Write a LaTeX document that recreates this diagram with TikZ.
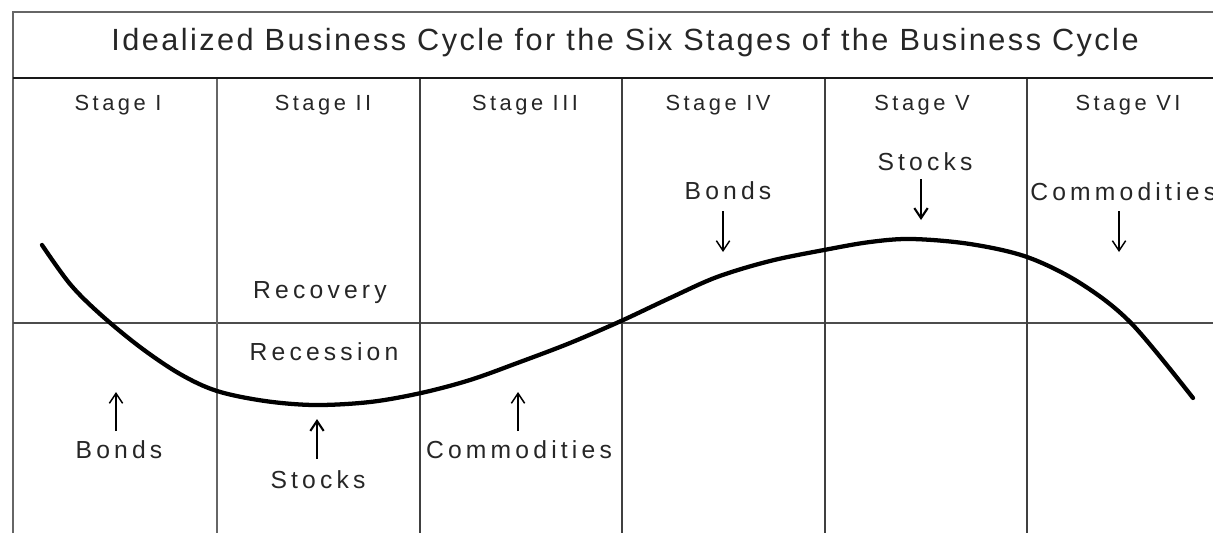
\documentclass[tikz,border=0pt]{standalone}
\usepackage{fontspec}
\setmainfont{Liberation Sans}
\usetikzlibrary{arrows.meta}
\newfontfamily\lblfont[LetterSpace=17]{Liberation Sans}
\newfontfamily\stgfont[LetterSpace=16]{Liberation Sans}
\newfontfamily\ttlfont[LetterSpace=8]{Liberation Sans}
\begin{document}
\begin{tikzpicture}[x=0.75pt,y=-0.75pt,
  lbl/.style={font=\lblfont\fontsize{18.5}{21}\selectfont, inner sep=0pt, anchor=base, text=black!85},
  stg/.style={font=\stgfont\fontsize{16.4}{19}\selectfont, inner sep=0pt, anchor=base, text=black!85},
  ttl/.style={font=\ttlfont\fontsize{23}{27}\selectfont, inner sep=0pt, anchor=base, text=black!85},
  frameline/.style={line width=1.5pt, draw=black!60},
  sepline/.style={line width=1.6pt, draw=black!90},
  divline/.style={line width=1.5pt, draw=black!75},
  axisline/.style={line width=1.1pt, draw=black!70},
  cyclecurve/.style={line width=3.2pt, line join=round, line cap=round},
  arr/.style={line width=1.1pt, -{Straight Barb[length=7.5pt,width=10pt]}},
  thickarr/.style={line width=2.2pt, -{Straight Barb[length=7.5pt,width=10pt,line width=1.6pt]}},
]
\useasboundingbox[fill=white] (0,0) rectangle (1213,533);

% frame
\coordinate (tl) at (13,12);
\coordinate (tr) at (1213,12);
\coordinate (bl) at (13,533);
\coordinate (sl) at (13,78);
\coordinate (sr) at (1213,78);
\coordinate (al) at (13,323);
\coordinate (ar) at (1213,323);
\draw[frameline] (bl) -- (tl) -- (tr);
\draw[sepline] (sl) -- (sr);
\draw[axisline] (al) -- (ar);
\foreach \x/\n in {217/1,420/2,622/3,825/4,1027/5}{
  \coordinate (d\n t) at (\x,79);
  \coordinate (d\n b) at (\x,533);
}
\draw[divline, line width=2.2pt, draw=black!60] (d1t) -- (d1b);
\foreach \n in {2,3,4,5}{\draw[divline] (d\n t) -- (d\n b);}

% title and stage labels
\node[ttl] (title) at (625,50) {Idealized Business Cycle for the Six Stages of the Business Cycle};
\node[stg] (s1) at (118,110) {Stage I};
\node[stg] (s2) at (323,110) {Stage II};
\node[stg] (s3) at (525,110) {Stage III};
\node[stg] (s4) at (718,110) {Stage IV};
\node[stg] (s5) at (922,110) {Stage V};
\node[stg] (s6) at (1128,110) {Stage VI};

% curve
\draw[cyclecurve] plot[smooth, tension=0.55] coordinates {
  (42,245) (70,284) (100,314) (140,347) (180,374) (217,391) (265,401)
  (315,405) (370,402) (421,393) (470,380) (520,362) (570,343) (621,321)
  (670,298) (717,277) (770,261) (824,250) (870,242) (912,239) (970,244)
  (1027,257) (1080,283) (1131,323) (1193,398)};

% phase labels
\node[lbl] (recov) at (320,298) {Recovery};
\node[lbl] (reces) at (324,360) {Recession};

% asset labels
\node[lbl] (bonds1) at (119,458) {Bonds};
\node[lbl] (stocks2) at (318,488) {Stocks};
\node[lbl] (comm3) at (519,458) {Commodities};
\node[lbl] (bonds4) at (728,199) {Bonds};
\node[lbl] (stocks5) at (925,170) {Stocks};
\node[lbl, anchor=base west] (comm6) at (1030,200) {Commodities};

% arrows
\coordinate (a1s) at (116,431); \coordinate (a1e) at (116,392);
\coordinate (a2s) at (317,459); \coordinate (a2e) at (317,419);
\coordinate (a3s) at (518,431); \coordinate (a3e) at (518,392);
\coordinate (a4s) at (723,211); \coordinate (a4e) at (723,252);
\coordinate (a5s) at (921,179); \coordinate (a5e) at (921,220);
\coordinate (a6s) at (1119,211); \coordinate (a6e) at (1119,252);
\draw[arr] (a1s) -- (a1e);
\draw[thickarr] (a2s) -- (a2e);
\draw[arr] (a3s) -- (a3e);
\draw[arr] (a4s) -- (a4e);
\draw[thickarr] (a5s) -- (a5e);
\draw[arr] (a6s) -- (a6e);
\end{tikzpicture}
\end{document}
